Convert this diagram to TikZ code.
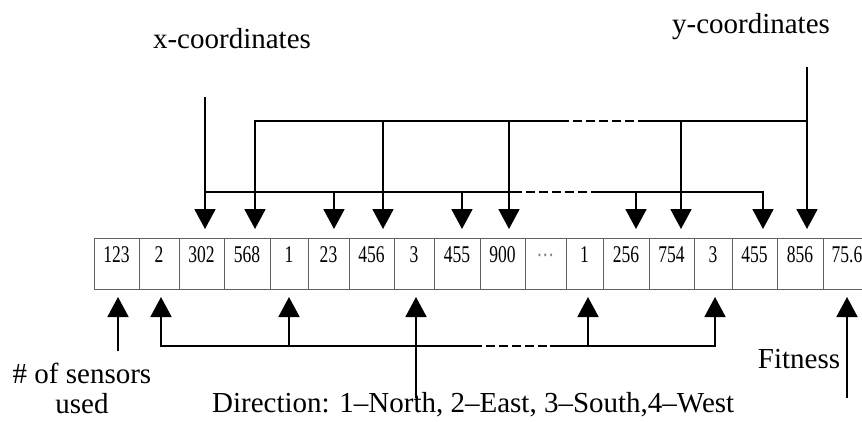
\documentclass[tikz,border=0pt]{standalone}
\usepackage{fontspec}
\setmainfont{Liberation Serif}
\newfontfamily\cellfont[FakeStretch=0.73]{Liberation Serif}
\usetikzlibrary{arrows.meta}
\begin{document}
\begin{tikzpicture}[x=1pt,y=-1pt,
  wire/.style={line width=1.8pt},
  feed/.style={wire, -{Triangle[length=20pt,width=21pt]}},
  gap/.style={wire, dash pattern=on 9pt off 4pt},
  cell/.style={draw=gray!75!black, line width=1pt, minimum height=51pt,
               inner sep=0pt, outer sep=0pt},
  num/.style={font=\cellfont\fontsize{24}{24}\selectfont, inner sep=0pt},
  lbl/.style={font=\fontsize{29}{30}\selectfont, inner sep=0pt}]

\useasboundingbox (0,0) rectangle (862,421);
\fill[white] (0,0) rectangle (862,421);
\clip (0,0) rectangle (862,421);

% chromosome cells: left edge / right edge / value
\foreach \lo/\hi/\txt [count=\i] in {94/139/123, 139/179/2, 179/224/302,
    224/270/568, 270/308/1, 308/349/23, 349/394/456, 394/434/3, 434/480/455,
    480/525/900, 525/566/{\textcolor{gray}{\ldots}}, 566/603/1, 603/649/256,
    649/694/754, 694/732/3, 732/777/455, 777/823/856, 823/871/75.6} {
  \node[cell, minimum width={(\hi-\lo)*1pt}] (c\i) at ({(\lo+\hi)/2},263.5) {};
  \node[num] (v\i) at ([yshift=-17pt]c\i.north) {\txt};
}

% labels
\node[lbl, anchor=base] (xlab) at (232,48) {x-coordinates};
\node[lbl, anchor=base] (ylab) at (751,33) {y-coordinates};
\node[lbl, anchor=base] (fit) at (799,368) {Fitness};
\node[lbl, align=center, anchor=base] (sens) at (82,413) {\# of sensors\\used};
\node[lbl, anchor=base west] (dir) at (212,412) {Direction: 1–North, 2–East, 3–South,4–West};

% x-coordinate bus (lower)
\coordinate (xin) at (205,97);
\coordinate (xj)  at (205,192);
\coordinate (xd1) at (513,192);
\coordinate (xd2) at (597,192);
\coordinate (xt1) at (205,229);
\coordinate (xb2) at (334,192); \coordinate (xt2) at (334,229);
\coordinate (xb3) at (462,192); \coordinate (xt3) at (462,229);
\coordinate (xb4) at (636,192); \coordinate (xt4) at (636,229);
\coordinate (xt5) at (763,229);

\draw[feed] (xin) -- (xt1);
\draw[wire] (xj) -- (xd1);
\draw[gap] (xd1) -- (xd2);
\draw[feed] (xd2) -| (xt5);
\draw[feed] (xb2) -- (xt2);
\draw[feed] (xb3) -- (xt3);
\draw[feed] (xb4) -- (xt4);

% y-coordinate bus (upper)
\coordinate (yin) at (807,67);
\coordinate (yj)  at (807,121);
\coordinate (yd1) at (560,121);
\coordinate (yd2) at (645,121);
\coordinate (yt1) at (255,229);
\coordinate (yb2) at (383,121); \coordinate (yt2) at (383,229);
\coordinate (yb3) at (509,121); \coordinate (yt3) at (509,229);
\coordinate (yb4) at (681,121); \coordinate (yt4) at (681,229);
\coordinate (yt5) at (807,229);

\draw[feed] (yd1) -| (yt1);
\draw[gap] (yd1) -- (yd2);
\draw[wire] (yd2) -- (yj);
\draw[feed] (yin) -- (yt5);
\draw[feed] (yb2) -- (yt2);
\draw[feed] (yb3) -- (yt3);
\draw[feed] (yb4) -- (yt4);

% direction bus (bottom)
\coordinate (bd1) at (473,346);
\coordinate (bd2) at (550,346);
\coordinate (bt1) at (161,297);
\coordinate (bb2) at (289,346); \coordinate (bt2) at (289,297);
\coordinate (bb3) at (416,398); \coordinate (bt3) at (416,297);
\coordinate (bb4) at (588,346); \coordinate (bt4) at (588,297);
\coordinate (bt5) at (715,297);

\draw[feed] (bd1) -| (bt1);
\draw[gap] (bd1) -- (bd2);
\draw[feed] (bd2) -| (bt5);
\draw[feed] (bb2) -- (bt2);
\draw[feed] (bb3) -- (bt3);
\draw[feed] (bb4) -- (bt4);

% sensor count and fitness pointers
\coordinate (sb) at (118,351); \coordinate (st) at (118,297);
\coordinate (fb) at (847,398); \coordinate (ft) at (847,297);
\draw[feed] (sb) -- (st);
\draw[feed] (fb) -- (ft);
\end{tikzpicture}
\end{document}
